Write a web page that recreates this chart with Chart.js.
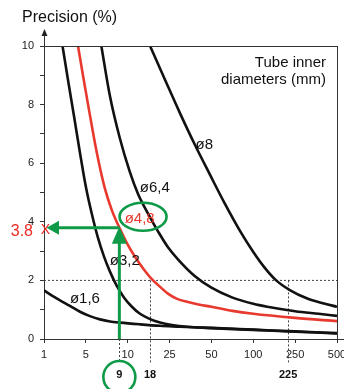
<!DOCTYPE html>
<html><head><meta charset="utf-8">
<script src="https://cdn.jsdelivr.net/npm/chart.js@4"></script>
<style>html,body{margin:0;padding:0;background:#fff}canvas{display:block}</style>
</head><body>
<canvas id="c" width="344" height="389"></canvas>
<script>
// ---- data ----
const xTickValues = [1, 5, 10, 25, 50, 100, 250, 500];
const yMin = 0, yMax = 10;

const d16x = [1, 1.76, 2.53, 3.48, 4.44, 5.49, 6.68, 7.88, 9.07, 14.4, 21.6, 31, 50, 100, 250, 500];
const d16y = [1.66, 1.48, 1.32, 1.13, 0.93, 0.78, 0.67, 0.6, 0.56, 0.5, 0.45, 0.42, 0.37, 0.31, 0.25, 0.19];

const d32x = [2.77, 3.29, 3.87, 4.44, 5, 5.73, 6.45, 7.16, 7.88, 8.68, 9.55, 11.5, 14.4, 18, 21.6, 26.4, 35.7, 50, 100, 250, 500];
const d32y = [10, 8.85, 7.6, 6.35, 5.2, 4.25, 3.45, 2.82, 2.3, 1.82, 1.42, 1.1, 0.86, 0.68, 0.56, 0.48, 0.42, 0.38, 0.32, 0.26, 0.2];

const d48x = [4.25, 4.82, 5.48, 6.28, 7.27, 8.1, 9, 10.1, 13.2, 15.6, 18.3, 21.6, 24.4, 29.2, 36, 43, 50, 75, 100, 250, 500];
const d48y = [10, 8.8, 7.65, 6.4, 5.14, 4.4, 3.8, 3.2, 2.72, 2.4, 2.08, 1.78, 1.55, 1.38, 1.26, 1.17, 1.1, 0.96, 0.86, 0.72, 0.61];

const d64x = [6.85, 7.87, 9.06, 10.7, 13.7, 16.6, 18.9, 20.7, 24.3, 30, 40, 50, 74.5, 100, 150, 250, 390, 500];
const d64y = [10, 8.3, 6.85, 5.72, 4.95, 4.4, 4.0, 3.7, 3.15, 2.72, 2.15, 1.75, 1.42, 1.2, 1.1, 0.95, 0.86, 0.79];

const d8x = [18, 23.4, 31.2, 40.2, 49.2, 66.2, 84.1, 100, 142, 181, 231, 319, 416, 500];
const d8y = [10, 8.84, 7.71, 6.62, 5.6, 4.61, 3.69, 2.97, 2.42, 2.01, 1.67, 1.39, 1.22, 1.1];

const seriesNames = ['ø1,6', 'ø3,2', 'ø4,8', 'ø6,4', 'ø8'];
const readFlow = 9, readPrecision = 3.8;
const thresholdPrecision = 2;
const markFlows = [18, 225];

// ---- helpers ----
function xPos(v) {
  for (let i = 0; i < xTickValues.length - 1; i++) {
    const a = xTickValues[i], b = xTickValues[i + 1];
    if (v <= b || i === xTickValues.length - 2) return i + (v - a) / (b - a);
  }
}
function pts(xs, ys) { return xs.map((x, i) => ({ x: xPos(x), y: ys[i] })); }

const BLACK = '#111', RED = '#e8392e', GREEN = '#0f9a48';
const FONT = '"Liberation Sans", Arial, Helvetica, sans-serif';

function ds(label, xs, ys, color) {
  return { label, data: pts(xs, ys), borderColor: color, borderWidth: 2.6, pointRadius: 0,
    cubicInterpolationMode: 'monotone', fill: false };
}

const annot = {
  id: 'annot',
  beforeDatasetsDraw(chart) {
    const { ctx, chartArea: ca, scales: { x, y } } = chart;
    ctx.save();
    ctx.strokeStyle = '#444'; ctx.lineWidth = 1; ctx.setLineDash([2, 2]);
    const y2 = y.getPixelForValue(thresholdPrecision);
    ctx.beginPath(); ctx.moveTo(ca.left, y2); ctx.lineTo(ca.right, y2); ctx.stroke();
    markFlows.forEach(f => {
      const px = Math.round(x.getPixelForValue(xPos(f))) + 0.5;
      ctx.beginPath(); ctx.moveTo(px, y2); ctx.lineTo(px, ca.bottom + 25); ctx.stroke();
    });
    const p9 = Math.round(x.getPixelForValue(xPos(readFlow))) + 0.5;
    ctx.beginPath(); ctx.moveTo(p9, ca.bottom); ctx.lineTo(p9, ca.bottom + 22); ctx.stroke();
    ctx.restore();
  },
  afterDatasetsDraw(chart) {
    const { ctx, chartArea: ca, scales: { x, y } } = chart;
    const W = chart.width;
    ctx.save();
    // frame
    ctx.strokeStyle = '#333'; ctx.lineWidth = 1;
    ctx.beginPath();
    ctx.moveTo(ca.left, Math.round(ca.top) + 0.5); ctx.lineTo(ca.right, Math.round(ca.top) + 0.5);
    ctx.moveTo(Math.round(ca.right) + 0.5, ca.top); ctx.lineTo(Math.round(ca.right) + 0.5, ca.bottom);
    ctx.moveTo(ca.right, Math.round(ca.bottom) + 0.5); ctx.lineTo(W, Math.round(ca.bottom) + 0.5);
    ctx.moveTo(Math.round(ca.left) + 0.5, ca.top); ctx.lineTo(Math.round(ca.left) + 0.5, ca.top - 14);
    ctx.stroke();
    // y-axis arrow head
    ctx.fillStyle = '#222';
    ctx.beginPath();
    ctx.moveTo(ca.left + 0.5, ca.top - 17); ctx.lineTo(ca.left - 2.5, ca.top - 10); ctx.lineTo(ca.left + 3.5, ca.top - 10);
    ctx.closePath(); ctx.fill();

    // titles
    ctx.fillStyle = '#111';
    ctx.font = '16px ' + FONT; ctx.textAlign = 'left'; ctx.textBaseline = 'middle';
    ctx.fillText('Precision (%)', 22, 18);
    ctx.font = '15px ' + FONT; ctx.textAlign = 'right';
    ctx.fillText('Tube inner', 326, 63);
    ctx.fillText('diameters (mm)', 326, 80);

    // series labels
    const lbl = (t, xv, yv, col) => {
      ctx.fillStyle = col; ctx.textAlign = 'left'; ctx.textBaseline = 'middle';
      ctx.fillText(t, x.getPixelForValue(xPos(xv)), y.getPixelForValue(yv));
    };
    ctx.font = '15px ' + FONT;
    lbl(seriesNames[4], 40.5, 6.62, BLACK);
    lbl(seriesNames[3], 14.3, 5.15, BLACK);
    lbl(seriesNames[2], 9.64, 4.1, RED);
    lbl(seriesNames[1], 7.86, 2.66, BLACK);
    lbl(seriesNames[0], 3.48, 1.37, BLACK);

    // green ellipse around ø4,8
    ctx.strokeStyle = GREEN; ctx.lineWidth = 2.6;
    ctx.beginPath();
    ctx.ellipse(x.getPixelForValue(xPos(15.5)), y.getPixelForValue(4.17), 23.5, 14, 0, 0, Math.PI * 2);
    ctx.stroke();

    // reading arrows
    const px9 = x.getPixelForValue(xPos(readFlow));
    const py = y.getPixelForValue(readPrecision);
    const pxL = x.getPixelForValue(xPos(xTickValues[0]));
    ctx.lineWidth = 3; ctx.fillStyle = GREEN;
    ctx.beginPath(); ctx.moveTo(px9, ca.bottom); ctx.lineTo(px9, py + 14); ctx.stroke();
    ctx.beginPath(); ctx.moveTo(px9, py - 1); ctx.lineTo(px9 - 7.5, py + 16); ctx.lineTo(px9 + 7.5, py + 16); ctx.closePath(); ctx.fill();
    ctx.beginPath(); ctx.moveTo(px9, py); ctx.lineTo(pxL + 14, py); ctx.stroke();
    ctx.beginPath(); ctx.moveTo(pxL + 2.5, py); ctx.lineTo(pxL + 15, py - 7); ctx.lineTo(pxL + 15, py + 7); ctx.closePath(); ctx.fill();

    // circle around the read flow
    ctx.lineWidth = 2.6;
    ctx.beginPath(); ctx.arc(px9, ca.bottom + 38, 16, 0, Math.PI * 2); ctx.stroke();

    // red reading
    ctx.fillStyle = '#ee2a24';
    ctx.font = '14px ' + FONT; ctx.textAlign = 'center'; ctx.textBaseline = 'middle';
    ctx.fillText('X', pxL + 1.5, py + 2);
    ctx.font = '16px ' + FONT; ctx.textAlign = 'right';
    ctx.fillText(String(readPrecision), pxL - 11, py + 4);

    // bold flow marks
    ctx.fillStyle = '#111'; ctx.font = 'bold 11px ' + FONT; ctx.textAlign = 'center';
    ctx.fillText(String(readFlow), px9, ca.bottom + 36);
    markFlows.forEach(f => ctx.fillText(String(f), x.getPixelForValue(xPos(f)), ca.bottom + 36));
    ctx.restore();
  }
};

new Chart(document.getElementById('c'), {
  type: 'line',
  data: { datasets: [
    ds(seriesNames[0], d16x, d16y, BLACK),
    ds(seriesNames[1], d32x, d32y, BLACK),
    ds(seriesNames[2], d48x, d48y, RED),
    ds(seriesNames[3], d64x, d64y, BLACK),
    ds(seriesNames[4], d8x, d8y, BLACK)
  ]},
  options: {
    responsive: false, animation: false, devicePixelRatio: 1,
    layout: { padding: { top: 46, right: 7, left: 0, bottom: 0 }, autoPadding: false },
    plugins: { legend: { display: false }, tooltip: { enabled: false }, title: { display: false } },
    scales: {
      x: {
        type: 'linear', min: 0, max: xTickValues.length - 1,
        afterFit(s) { s.height = 50; s.paddingLeft = 0; s.paddingRight = 0; },
        afterBuildTicks(s) { s.ticks = xTickValues.map((v, i) => ({ value: i })); },
        ticks: { callback: (v) => xTickValues[v], color: '#222', font: { family: FONT, size: 11 }, padding: 5, maxRotation: 0, autoSkip: false },
        grid: { drawOnChartArea: false, drawTicks: true, tickLength: 4, color: '#333' },
        border: { display: true, color: '#333', width: 1 }
      },
      y: {
        min: yMin, max: yMax,
        afterFit(s) { s.width = 44; s.paddingTop = 0; s.paddingBottom = 0; },
        ticks: { stepSize: 1, callback: (v) => (v % 2 === 0 ? v : ''), color: '#222', font: { family: FONT, size: 11 }, padding: 6 },
        grid: { drawOnChartArea: false, drawTicks: true, tickLength: 4, color: '#333' },
        border: { display: true, color: '#333', width: 1 }
      }
    }
  },
  plugins: [annot]
});
</script>
</body></html>
